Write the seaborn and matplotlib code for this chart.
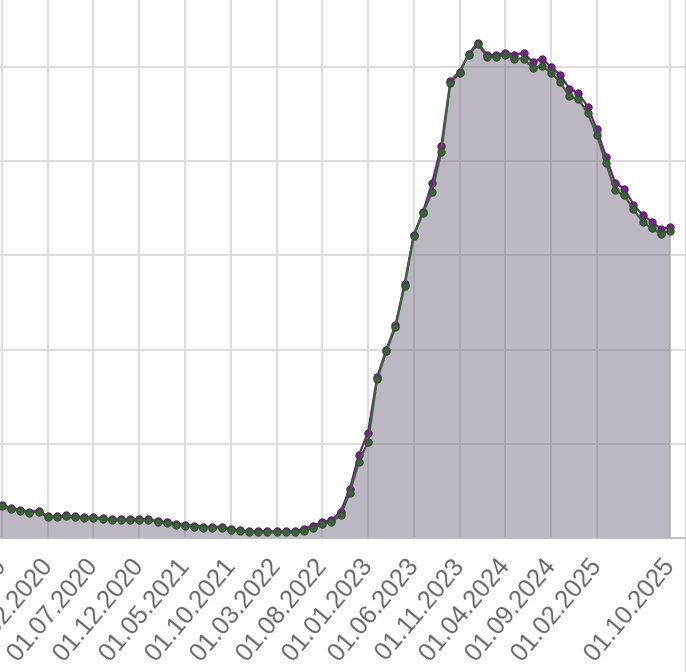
import matplotlib
matplotlib.use('Agg')
import pandas as pd
import matplotlib.pyplot as plt
import seaborn as sns
from matplotlib.lines import Line2D

# monthly values, 01.08.2019 .. 01.10.2025
months = pd.date_range('2019-08-01', '2025-10-01', freq='MS')
green = [36, 34, 31, 29, 27, 28, 22, 22, 23, 22, 21, 21, 20, 19, 19, 19, 19, 19, 17, 16,
         14, 13, 12, 11, 11, 11, 9, 7, 6, 6, 6, 6, 6, 6, 7, 11, 15, 17, 24, 48,
         81, 102, 169, 198, 224, 268, 321, 345, 367, 410, 483, 494, 513, 524, 511, 511, 513, 509, 509, 499,
         501, 494, 484, 469, 466, 451, 428, 398, 369, 364, 349, 336, 329, 323, 326]
purple = [37, 35, 32, 30, 28, 29, 23, 23, 24, 23, 22, 22, 21, 20, 20, 20, 20, 20, 18, 17,
          15, 14, 13, 12, 12, 12, 10, 8, 7, 7, 7, 7, 7, 7, 10, 13, 17, 19, 28, 52,
          88, 112, 171, 200, 226, 270, 322, 346, 377, 416, 485, 495, 514, 526, 513, 513, 515, 513, 515, 505,
          509, 500, 492, 477, 472, 458, 434, 405, 377, 371, 354, 343, 336, 328, 330]

df = pd.DataFrame({'idx': range(-1, len(months) - 1), 'month': months,
                   'green': green, 'purple': purple})
df['label'] = df['month'].dt.strftime('%d.%m.%Y')

# ticks every 5 months from 01.09.2019 up to 01.02.2025, plus the last month
tick_rows = list(range(1, 67, 5)) + [len(df) - 1]
ticks = df['idx'].iloc[tick_rows].tolist()
tick_labels = df['label'].iloc[tick_rows].tolist()

sns.set_style('white')
plt.rcParams['font.family'] = ['Liberation Sans', 'DejaVu Sans']

fig = plt.figure(figsize=(6.86, 6.72), dpi=100)
ax = fig.add_axes([-50 / 686, 134 / 672, 735 / 686, 568 / 672])

grid_col = '#dadada'
ax.set_axisbelow(True)
ax.fill_between(df['idx'], 0, df['green'], color='#6e6478', alpha=0.46, linewidth=0, zorder=2)
sns.lineplot(data=df, x='idx', y='purple', ax=ax, color='#6b2a7c', marker='o',
             markersize=5.2, markeredgewidth=0.8, markeredgecolor='#55205f', linewidth=1.6, zorder=3)
sns.lineplot(data=df, x='idx', y='green', ax=ax, color='#3f5f3f', marker='o',
             markersize=5.2, markeredgewidth=0.8, markeredgecolor='#334d33', linewidth=1.6, zorder=4)

ax.set_xlim(-5.68, 74.64)
ax.set_ylim(0, 603)
ax.set_yticks(range(100, 601, 100))
ax.set_xticks(ticks)
ax.set_xticklabels(tick_labels, rotation=50, ha='right', va='center', rotation_mode='anchor',
                   fontsize=18, color='#666666')
ax.tick_params(axis='x', length=13, width=1.3, color=grid_col, pad=4)
ax.tick_params(axis='y', left=False, labelleft=False)
ax.grid(True, color=grid_col, linewidth=1.3)
ax.set_xlabel('')
ax.set_ylabel('')
for side in ['left', 'top', 'right']:
    ax.spines[side].set_visible(False)
ax.spines['bottom'].set_color('#bdbdbd')
ax.spines['bottom'].set_linewidth(1.3)

fig.add_artist(Line2D([685.5 / 686, 685.5 / 686], [0, 1], transform=fig.transFigure,
                      color='#c8c8c8', linewidth=1.3))

fig.savefig('out.png', dpi=100)
